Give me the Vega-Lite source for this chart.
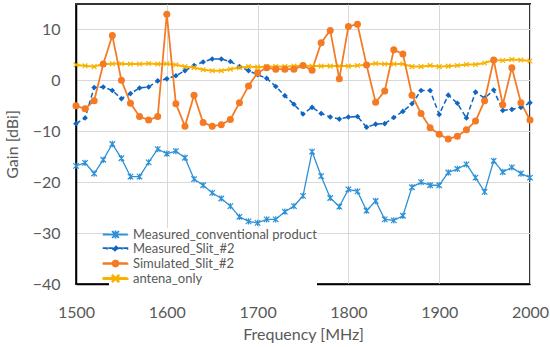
{
  "$schema": "https://vega.github.io/schema/vega-lite/v6.json",
  "width": 454,
  "height": 280,
  "autosize": {"type": "none"},
  "padding": {"left": 76, "top": 4, "right": 20, "bottom": 63},
  "background": "white",
  "config": {
    "font": "Lato",
    "view": {"stroke": "#333333", "strokeWidth": 2},
    "axis": {
      "labelFont": "Lato", "labelFontSize": 16, "labelColor": "#595959",
      "titleFont": "Lato", "titleFontSize": 16, "titleColor": "#595959", "titleFontWeight": "normal",
      "gridColor": "#D9D9D9", "gridWidth": 1, "ticks": false,
      "domainColor": "#000000", "domainWidth": 1.5
    }
  },
  "data": {"values": [
    {"f": 1500, "conv": -16.8, "slit": -8.5, "sim": -5.0, "ant": 3.05},
    {"f": 1510, "conv": -16.2, "slit": -7.4, "sim": -5.6, "ant": 2.85},
    {"f": 1520, "conv": -18.3, "slit": -1.4, "sim": -4.0, "ant": 2.7},
    {"f": 1530, "conv": -15.6, "slit": -1.3, "sim": 3.2, "ant": 3.2},
    {"f": 1540, "conv": -12.5, "slit": -2.0, "sim": 8.8, "ant": 3.25},
    {"f": 1550, "conv": -15.3, "slit": -3.6, "sim": 0.0, "ant": 3.25},
    {"f": 1560, "conv": -18.9, "slit": -2.6, "sim": -4.5, "ant": 3.2},
    {"f": 1570, "conv": -18.9, "slit": -1.5, "sim": -7.1, "ant": 3.2},
    {"f": 1580, "conv": -16.1, "slit": -1.3, "sim": -7.8, "ant": 3.3},
    {"f": 1590, "conv": -13.5, "slit": -0.1, "sim": -7.1, "ant": 3.2},
    {"f": 1600, "conv": -14.4, "slit": 0.3, "sim": 13.0, "ant": 3.25},
    {"f": 1610, "conv": -13.9, "slit": 0.9, "sim": -4.6, "ant": 3.05},
    {"f": 1620, "conv": -15.2, "slit": 1.9, "sim": -9.0, "ant": 2.7},
    {"f": 1630, "conv": -19.4, "slit": 2.9, "sim": -2.9, "ant": 2.5},
    {"f": 1640, "conv": -20.6, "slit": 3.6, "sim": -8.3, "ant": 2.1},
    {"f": 1650, "conv": -22.1, "slit": 4.2, "sim": -9.0, "ant": 1.9},
    {"f": 1660, "conv": -23.2, "slit": 4.2, "sim": -8.7, "ant": 1.9},
    {"f": 1670, "conv": -24.7, "slit": 3.7, "sim": -7.7, "ant": 2.2},
    {"f": 1680, "conv": -26.8, "slit": 2.7, "sim": -4.4, "ant": 2.5},
    {"f": 1690, "conv": -27.7, "slit": 1.9, "sim": -1.1, "ant": 2.7},
    {"f": 1700, "conv": -28.0, "slit": 1.1, "sim": 1.5, "ant": 2.6},
    {"f": 1710, "conv": -27.3, "slit": 0.4, "sim": 2.5, "ant": 2.7},
    {"f": 1720, "conv": -27.3, "slit": -1.2, "sim": 2.2, "ant": 2.7},
    {"f": 1730, "conv": -25.8, "slit": -3.0, "sim": 2.2, "ant": 2.7},
    {"f": 1740, "conv": -24.7, "slit": -4.7, "sim": 2.2, "ant": 2.8},
    {"f": 1750, "conv": -22.7, "slit": -6.6, "sim": 2.9, "ant": 2.9},
    {"f": 1760, "conv": -14.0, "slit": -5.3, "sim": 2.0, "ant": 2.8},
    {"f": 1770, "conv": -18.8, "slit": -6.5, "sim": 7.4, "ant": 2.8},
    {"f": 1780, "conv": -23.1, "slit": -7.2, "sim": 9.8, "ant": 2.8},
    {"f": 1790, "conv": -24.8, "slit": -7.6, "sim": 0.3, "ant": 2.8},
    {"f": 1800, "conv": -21.4, "slit": -7.2, "sim": 10.6, "ant": 2.8},
    {"f": 1810, "conv": -21.8, "slit": -7.1, "sim": 11.0, "ant": 2.9},
    {"f": 1820, "conv": -25.6, "slit": -9.2, "sim": 3.0, "ant": 3.1},
    {"f": 1830, "conv": -23.7, "slit": -8.6, "sim": -4.3, "ant": 3.3},
    {"f": 1840, "conv": -27.3, "slit": -8.5, "sim": -2.1, "ant": 3.2},
    {"f": 1850, "conv": -27.5, "slit": -7.3, "sim": 6.0, "ant": 3.2},
    {"f": 1860, "conv": -26.6, "slit": -6.1, "sim": 5.2, "ant": 3.2},
    {"f": 1870, "conv": -21.0, "slit": -4.6, "sim": -2.9, "ant": 2.7},
    {"f": 1880, "conv": -20.0, "slit": -2.0, "sim": -6.5, "ant": 2.7},
    {"f": 1890, "conv": -20.6, "slit": -2.0, "sim": -9.3, "ant": 2.9},
    {"f": 1900, "conv": -20.6, "slit": -6.7, "sim": -10.6, "ant": 2.7},
    {"f": 1910, "conv": -18.1, "slit": -2.9, "sim": -11.5, "ant": 2.8},
    {"f": 1920, "conv": -17.4, "slit": -4.5, "sim": -11.0, "ant": 2.9},
    {"f": 1930, "conv": -16.5, "slit": -7.4, "sim": -9.7, "ant": 3.1},
    {"f": 1940, "conv": -19.1, "slit": -2.3, "sim": -8.0, "ant": 3.1},
    {"f": 1950, "conv": -21.9, "slit": -3.5, "sim": -4.0, "ant": 3.4},
    {"f": 1960, "conv": -15.8, "slit": -1.9, "sim": 4.0, "ant": 4.0},
    {"f": 1970, "conv": -18.0, "slit": -5.9, "sim": -4.8, "ant": 3.9},
    {"f": 1980, "conv": -17.1, "slit": -5.7, "sim": 2.5, "ant": 4.1},
    {"f": 1990, "conv": -18.3, "slit": -5.3, "sim": -4.4, "ant": 4.0},
    {"f": 2000, "conv": -19.1, "slit": -4.4, "sim": -7.8, "ant": 3.8}
  ]},
  "transform": [{"fold": ["conv", "slit", "ant", "sim"], "as": ["series", "gain"]}],
  "encoding": {
    "x": {
      "field": "f", "type": "quantitative",
      "scale": {"domain": [1500, 2000], "nice": false},
      "axis": {"values": [1500, 1600, 1700, 1800, 1900, 2000], "title": "Frequency [MHz]", "labelPadding": 20, "titlePadding": 6, "format": "d", "labelFlush": false}
    },
    "y": {
      "field": "gain", "type": "quantitative",
      "scale": {"domain": [-40, 15], "nice": false},
      "axis": {"values": [-40, -30, -20, -10, 0, 10], "title": "Gain [dBi]", "labelPadding": 16, "titlePadding": 12}
    }
  },
  "layer": [
    {
      "mark": {"type": "line", "strokeJoin": "round"},
      "encoding": {
        "color": {
          "field": "series", "type": "nominal",
          "scale": {"domain": ["conv", "slit", "sim", "ant"], "range": ["#2D91D6", "#0F66C2", "#F47A24", "#F9B200"]},
          "legend": {
            "orient": "none", "legendX": 33, "legendY": 224, "title": null,
            "fillColor": "white", "padding": 0, "rowPadding": 0, "labelLimit": 400,
            "labelFont": "Lato", "labelFontSize": 13, "labelColor": "#595959", "labelOffset": 11,
            "symbolSize": 64, "symbolStrokeWidth": 1,
            "labelExpr": "{'conv':'Measured_conventional product','slit':'Measured_Slit_#2','sim':'Simulated_Slit_#2','ant':'antena_only'}[datum.value]"
          }
        },
        "strokeDash": {"field": "series", "type": "nominal", "scale": {"domain": ["conv", "slit", "sim", "ant"], "range": [[1, 0], [5, 3], [1, 0], [1, 0]]}, "legend": null},
        "strokeWidth": {"field": "series", "type": "nominal", "scale": {"domain": ["conv", "slit", "sim", "ant"], "range": [1.3, 2, 2, 2]}, "legend": null}
      }
    },
    {
      "transform": [{"filter": {"field": "series", "equal": "conv"}}],
      "mark": {"type": "point", "shape": "M-1,-1L1,1M-1,1L1,-1M0,-1.15V1.15", "size": 30, "filled": false, "opacity": 1, "color": "#2D91D6", "strokeWidth": 1.2}
    },
    {
      "transform": [{"filter": {"field": "series", "equal": "slit"}}],
      "mark": {"type": "point", "shape": "diamond", "size": 32, "filled": true, "opacity": 1, "color": "#0F66C2"}
    },
    {
      "transform": [{"filter": {"field": "series", "equal": "ant"}}],
      "mark": {"type": "point", "shape": "M-1,-1L1,1M-1,1L1,-1", "size": 22, "filled": false, "opacity": 1, "color": "#F9B200", "strokeWidth": 1.2}
    },
    {
      "transform": [{"filter": {"field": "series", "equal": "sim"}}],
      "mark": {"type": "point", "shape": "circle", "size": 49, "filled": true, "opacity": 1, "color": "#F47A24"}
    },
    {
      "transform": [{"filter": "datum.f < 0"}],
      "mark": {"type": "point", "filled": true, "opacity": 1, "size": 64},
      "encoding": {
        "color": {
          "field": "series", "type": "nominal",
          "scale": {"domain": ["conv", "slit", "sim", "ant"], "range": ["#2D91D6", "#0F66C2", "#F47A24", "#F9B200"]},
          "legend": {
            "orient": "none", "legendX": 33, "legendY": 224, "title": null,
            "fillColor": "white", "padding": 0, "rowPadding": 0, "labelLimit": 400,
            "labelFont": "Lato", "labelFontSize": 13, "labelColor": "#595959", "labelOffset": 11,
            "symbolSize": 64, "symbolStrokeWidth": 1,
            "labelExpr": "{'conv':'Measured_conventional product','slit':'Measured_Slit_#2','sim':'Simulated_Slit_#2','ant':'antena_only'}[datum.value]"
          }
        },
        "shape": {
          "field": "series", "type": "nominal",
          "scale": {"domain": ["conv", "slit", "sim", "ant"], "range": [
            "M-3,-0.07H3V0.07H-3Z M-0.7,-0.8L0.8,0.7L0.7,0.8L-0.8,-0.7Z M-0.8,0.7L0.7,-0.8L0.8,-0.7L-0.7,0.8Z M-0.07,-0.85H0.07V0.85H-0.07Z",
            "M-3,-0.12H-2.125V0.12H-3Z M-1.625,-0.12H-0.75V0.12H-1.625Z M0.75,-0.12H1.625V0.12H0.75Z M2.125,-0.12H3V0.12H2.125Z M0,-0.7L0.7,0L0,0.7L-0.7,0Z",
            "M-3,-0.12H3V0.12H-3Z M-0.75,0A0.75,0.75 0 1,1 0.75,0A0.75,0.75 0 1,1 -0.75,0Z",
            "M-3,-0.12H3V0.12H-3Z M-0.7,-0.8L0.8,0.7L0.7,0.8L-0.8,-0.7Z M-0.8,0.7L0.7,-0.8L0.8,-0.7L-0.7,0.8Z"
          ]},
          "legend": {
            "orient": "none", "legendX": 33, "legendY": 224, "title": null,
            "fillColor": "white", "padding": 0, "rowPadding": 0, "labelLimit": 400,
            "labelFont": "Lato", "labelFontSize": 13, "labelColor": "#595959", "labelOffset": 11,
            "symbolSize": 64, "symbolStrokeWidth": 1,
            "labelExpr": "{'conv':'Measured_conventional product','slit':'Measured_Slit_#2','sim':'Simulated_Slit_#2','ant':'antena_only'}[datum.value]"
          }
        }
      }
    }
  ]
}
